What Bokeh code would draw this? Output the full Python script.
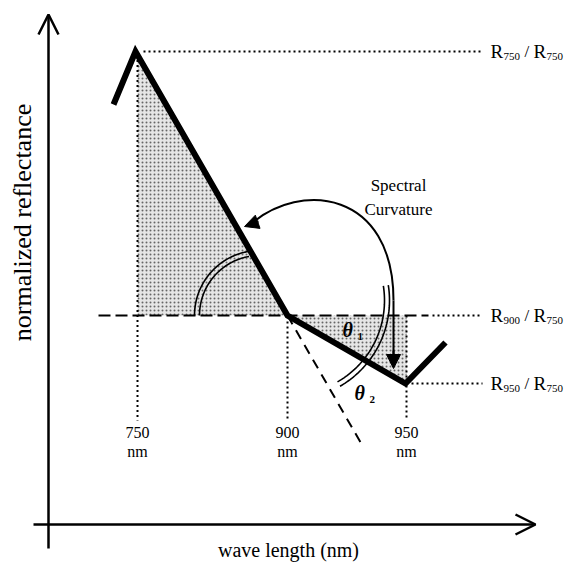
import numpy as np
from bokeh.plotting import figure
from bokeh.models import Range1d, Arrow, OpenHead, NormalHead
from bokeh.core.properties import value
from bokeh.embed import file_html
from bokeh.resources import INLINE

# ---- schematic data (diagram units: x to the right, y downward) ----
spectrum_x = [113, 135, 287, 405, 445]
spectrum_y = [104, 51, 315, 383, 342]
band_labels = ["750", "900", "950"]
band_x = [137, 287, 406]
ratio_subs = ["750", "900", "950"]
ratio_y = [51, 315, 383]
base_y = 315

SERIF = value("Liberation Serif")

p = figure(width=580, height=564, x_range=Range1d(0, 580), y_range=Range1d(564, 0),
           output_backend="svg", toolbar_location=None, min_border=0,
           x_axis_location=None, y_axis_location=None)
p.grid.visible = False
p.outline_line_color = None

# ---- shaded regions ----
y750 = float(np.interp(band_x[0], spectrum_x[1:3], spectrum_y[1:3]))
p.patch([band_x[0], spectrum_x[2], band_x[0]], [y750, spectrum_y[2], base_y],
        fill_color="#e6e6e6", line_color=None, hatch_pattern="dot",
        hatch_color="#666666", hatch_scale=4, hatch_weight=1)
y950 = float(np.interp(band_x[2], spectrum_x[3:5], spectrum_y[3:5]))
p.patch([spectrum_x[2], spectrum_x[3], band_x[2], band_x[2]],
        [base_y, spectrum_y[3], y950, base_y],
        fill_color="#e6e6e6", line_color=None, hatch_pattern="dot",
        hatch_color="#666666", hatch_scale=4, hatch_weight=1)

# ---- axes with open arrowheads ----
p.add_layout(Arrow(end=OpenHead(size=20, line_width=2.5), x_start=48, y_start=548,
                   x_end=48, y_end=14, line_width=2.5))
p.add_layout(Arrow(end=OpenHead(size=20, line_width=2.5), x_start=33, y_start=524,
                   x_end=535, y_end=524, line_width=2.5))

# ---- reference leaders ----
p.line([band_x[0] + 6, 482], [ratio_y[0], ratio_y[0]], line_color="black", line_width=2, line_dash="2 3")
p.line([98, 428], [base_y, base_y], line_color="black", line_width=2, line_dash="12 5")
p.line([432, 482], [base_y, base_y], line_color="black", line_width=2, line_dash="2 3")
p.line([spectrum_x[3] + 6, 482], [ratio_y[2], ratio_y[2]], line_color="black", line_width=2, line_dash="2 3")
for bx, top in zip(band_x, [y750, base_y + 6, base_y]):
    p.line([bx, bx], [top, 420], line_color="black", line_width=2, line_dash="2 3")

# dashed extension of the 750-900 slope
slope = (spectrum_y[2] - spectrum_y[1]) / (spectrum_x[2] - spectrum_x[1])
ext_x = [spectrum_x[2], spectrum_x[2] + 76]
ext_y = [spectrum_y[2], spectrum_y[2] + 76 * slope]
p.line(ext_x, ext_y, line_color="black", line_width=2, line_dash="10 7")

# ---- spectrum ----
p.line(spectrum_x, spectrum_y, line_color="black", line_width=6, line_join="miter")

# ---- angle double arcs ----
def arc(cx, cy, r, a0, a1):
    t = np.radians(np.linspace(a0, a1, 60))
    return cx + r * np.cos(t), cy - r * np.sin(t)

for r in (60, 65):
    ax, ay = arc(259, base_y, r, 180, 100)
    p.line(ax, ay, line_color="black", line_width=1.6)
for r in (94, 99):
    ax, ay = arc(290, 300, r, 9, -60)
    p.line(ax, ay, line_color="black", line_width=1.6)

# ---- spectral curvature arrow ----
p.bezier(x0=[393], y0=[300], x1=[250], y1=[224], cx0=[393], cy0=[190], cx1=[300], cy1=[180],
         line_color="black", line_width=2)
p.line([393, 393], [300, 355], line_color="black", line_width=2)
p.add_layout(Arrow(end=NormalHead(size=14, fill_color="black", line_color="black"),
                   x_start=393, y_start=350, x_end=393, y_end=368, line_width=2))
p.add_layout(Arrow(end=NormalHead(size=14, fill_color="black", line_color="black"),
                   x_start=258, y_start=221, x_end=244, y_end=226, line_width=2))

# ---- texts ----
p.text(x=[398, 398], y=[185, 209], text=["Spectral", "Curvature"], text_font=SERIF,
       text_font_size="17px", text_align="center", text_baseline="middle")
p.text(x=band_x * 2, y=[432] * 3 + [451] * 3, text=band_labels + ["nm"] * 3, text_font=SERIF,
       text_font_size="16px", text_align="center", text_baseline="middle")
p.text(x=[22], y=[222], text=["normalized reflectance"], angle=np.pi / 2, text_font=SERIF,
       text_font_size="26px", text_align="center", text_baseline="middle")
p.text(x=[288], y=[549], text=["wave length (nm)"], text_font=SERIF,
       text_font_size="20px", text_align="center", text_baseline="middle")

x0 = 490
p.text(x=[x0] * 3, y=ratio_y, text=["R"] * 3, text_font=SERIF, text_font_size="19px",
       text_baseline="middle")
p.text(x=[x0 + 13] * 3, y=[v + 5 for v in ratio_y], text=ratio_subs, text_font=SERIF,
       text_font_size="11px", text_baseline="middle")
p.text(x=[x0 + 34] * 3, y=ratio_y, text=["/"] * 3, text_font=SERIF, text_font_size="17px",
       text_baseline="middle")
p.text(x=[x0 + 43] * 3, y=ratio_y, text=["R"] * 3, text_font=SERIF, text_font_size="19px",
       text_baseline="middle")
p.text(x=[x0 + 56] * 3, y=[v + 5 for v in ratio_y], text=["750"] * 3, text_font=SERIF,
       text_font_size="11px", text_baseline="middle")

theta_font = value("Liberation Serif")
p.text(x=[342, 354], y=[329, 392], text=["θ", "θ"], text_font=theta_font, text_font_style="bold italic",
       text_font_size="20px", text_baseline="middle")
p.text(x=[357, 369], y=[336, 399], text=["1", "2"], text_font=theta_font, text_font_style="bold",
       text_font_size="11px", text_baseline="middle")

open("out.html", "w").write(file_html(p, INLINE))
